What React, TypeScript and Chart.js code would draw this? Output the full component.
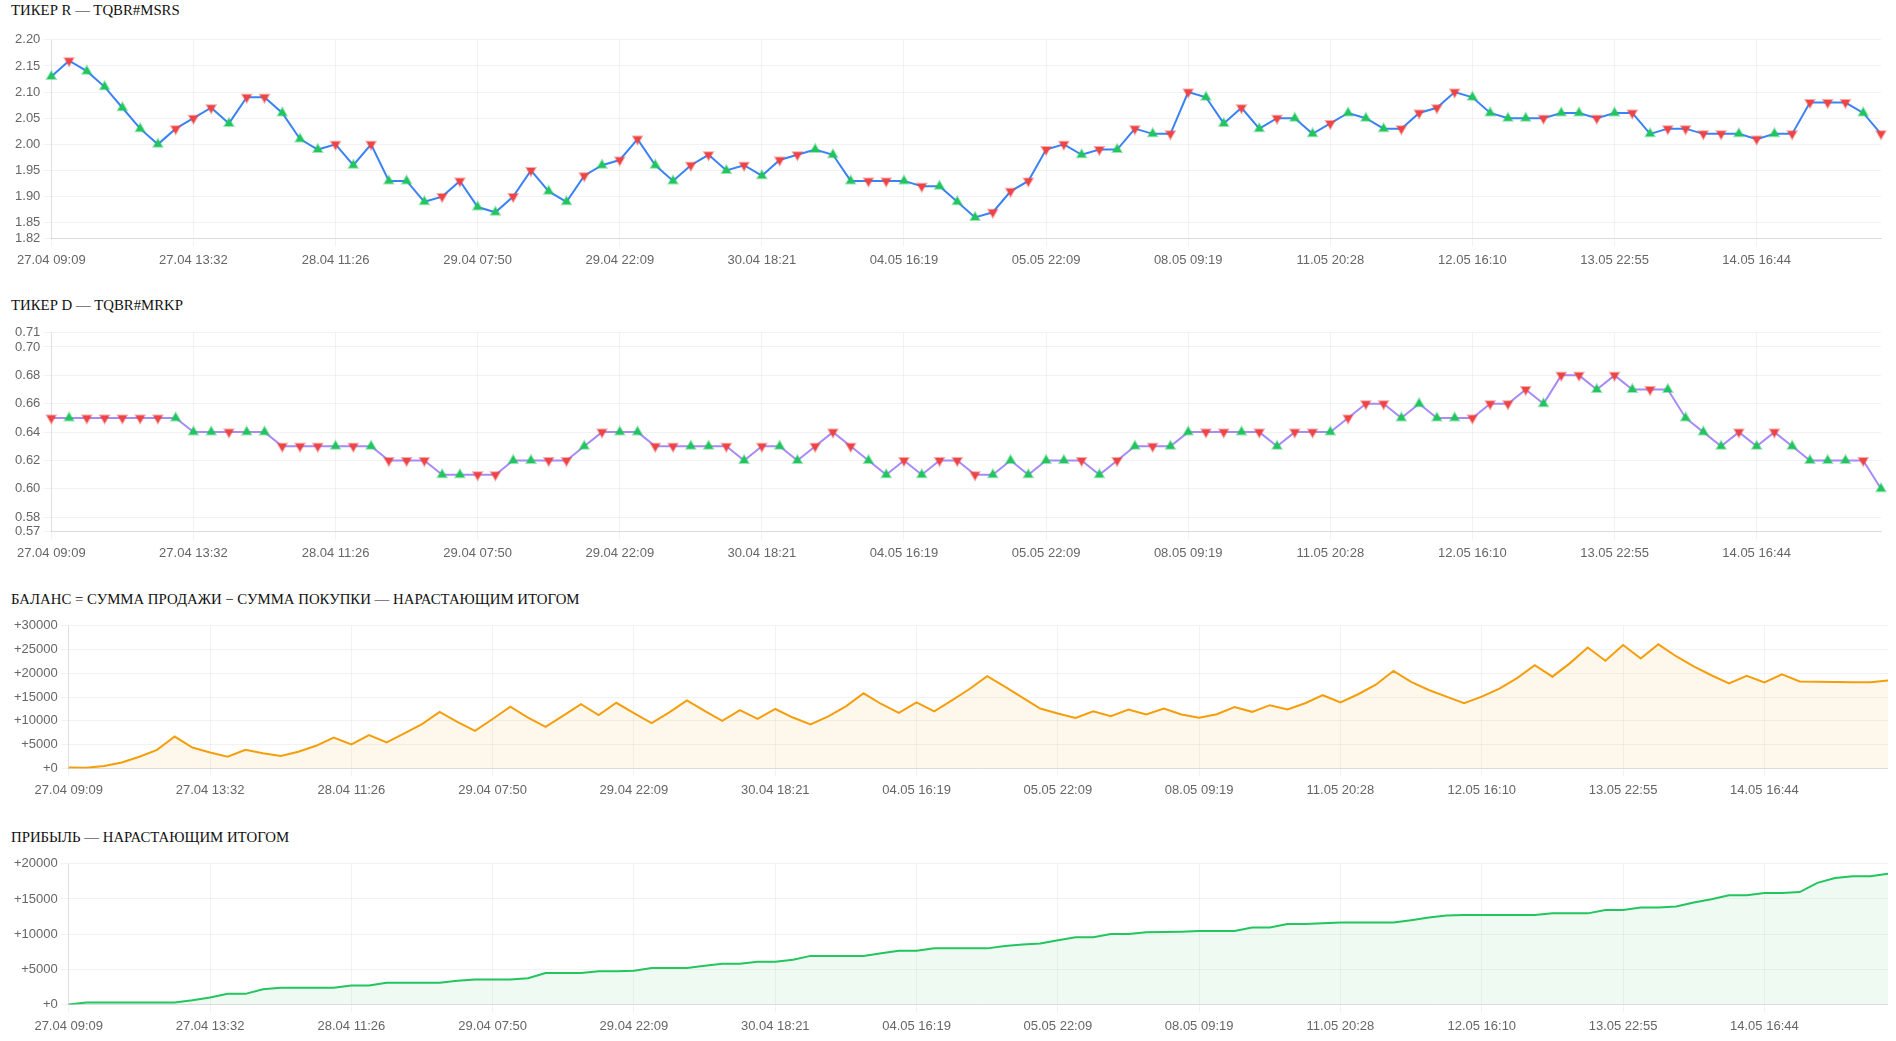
import React, { useEffect, useRef, useState } from "react";
import { Chart, registerables } from "chart.js";

Chart.register(...registerables);

// ---------- DATA ----------
const tickLabels = [
  "27.04 09:09", "27.04 13:32", "28.04 11:26", "29.04 07:50", "29.04 22:09",
  "30.04 18:21", "04.05 16:19", "05.05 22:09", "08.05 09:19", "11.05 20:28",
  "12.05 16:10", "13.05 22:55", "14.05 16:44",
];
const LABEL_STEP = 8;

const priceR = [
  2.13, 2.16, 2.14, 2.11, 2.07, 2.03, 2.00, 2.03, 2.05, 2.07,
  2.04, 2.09, 2.09, 2.06, 2.01, 1.99, 2.00, 1.96, 2.00, 1.93,
  1.93, 1.89, 1.90, 1.93, 1.88, 1.87, 1.90, 1.95, 1.91, 1.89,
  1.94, 1.96, 1.97, 2.01, 1.96, 1.93, 1.96, 1.98, 1.95, 1.96,
  1.94, 1.97, 1.98, 1.99, 1.98, 1.93, 1.93, 1.93, 1.93, 1.92,
  1.92, 1.89, 1.86, 1.87, 1.91, 1.93, 1.99, 2.00, 1.98, 1.99,
  1.99, 2.03, 2.02, 2.02, 2.10, 2.09, 2.04, 2.07, 2.03, 2.05,
  2.05, 2.02, 2.04, 2.06, 2.05, 2.03, 2.03, 2.06, 2.07, 2.10,
  2.09, 2.06, 2.05, 2.05, 2.05, 2.06, 2.06, 2.05, 2.06, 2.06,
  2.02, 2.03, 2.03, 2.02, 2.02, 2.02, 2.01, 2.02, 2.02, 2.08,
  2.08, 2.08, 2.06, 2.02,
];
// B = buy (green up triangle), S = sell (red down triangle)
const sidesR = [
  "B", "S", "B", "B", "B", "B", "B", "S", "S", "S",
  "B", "S", "S", "B", "B", "B", "S", "B", "S", "B",
  "B", "B", "S", "S", "B", "B", "S", "S", "B", "B",
  "S", "B", "S", "S", "B", "B", "S", "S", "B", "S",
  "B", "S", "S", "B", "B", "B", "S", "S", "B", "S",
  "B", "B", "B", "S", "S", "S", "S", "S", "B", "S",
  "B", "S", "B", "S", "S", "B", "B", "S", "B", "S",
  "B", "B", "S", "B", "B", "B", "S", "S", "S", "S",
  "B", "B", "B", "B", "S", "B", "B", "S", "B", "S",
  "B", "S", "S", "S", "S", "B", "S", "B", "S", "S",
  "S", "S", "B", "S",
];
const yTicksR = [1.82, 1.85, 1.9, 1.95, 2.0, 2.05, 2.1, 2.15, 2.2];

const priceD = [
  0.65, 0.65, 0.65, 0.65, 0.65, 0.65, 0.65, 0.65, 0.64, 0.64,
  0.64, 0.64, 0.64, 0.63, 0.63, 0.63, 0.63, 0.63, 0.63, 0.62,
  0.62, 0.62, 0.61, 0.61, 0.61, 0.61, 0.62, 0.62, 0.62, 0.62,
  0.63, 0.64, 0.64, 0.64, 0.63, 0.63, 0.63, 0.63, 0.63, 0.62,
  0.63, 0.63, 0.62, 0.63, 0.64, 0.63, 0.62, 0.61, 0.62, 0.61,
  0.62, 0.62, 0.61, 0.61, 0.62, 0.61, 0.62, 0.62, 0.62, 0.61,
  0.62, 0.63, 0.63, 0.63, 0.64, 0.64, 0.64, 0.64, 0.64, 0.63,
  0.64, 0.64, 0.64, 0.65, 0.66, 0.66, 0.65, 0.66, 0.65, 0.65,
  0.65, 0.66, 0.66, 0.67, 0.66, 0.68, 0.68, 0.67, 0.68, 0.67,
  0.67, 0.67, 0.65, 0.64, 0.63, 0.64, 0.63, 0.64, 0.63, 0.62,
  0.62, 0.62, 0.62, 0.60,
];
const sidesD = [
  "S", "B", "S", "S", "S", "S", "S", "B", "B", "B",
  "S", "B", "B", "S", "S", "S", "B", "S", "B", "S",
  "S", "S", "B", "B", "S", "S", "B", "B", "S", "S",
  "B", "S", "B", "B", "S", "S", "B", "B", "S", "B",
  "S", "B", "B", "S", "S", "S", "B", "B", "S", "B",
  "S", "S", "S", "B", "B", "B", "B", "B", "S", "B",
  "S", "B", "S", "B", "B", "S", "S", "B", "S", "B",
  "S", "S", "B", "S", "S", "S", "B", "B", "B", "B",
  "S", "S", "S", "S", "B", "S", "S", "B", "S", "B",
  "S", "B", "B", "B", "B", "S", "B", "S", "B", "B",
  "B", "B", "S", "B",
];
const yTicksD = [0.57, 0.58, 0.6, 0.62, 0.64, 0.66, 0.68, 0.7, 0.71];

const balance = [
  200, 150, 500, 1250, 2450, 3900, 6700, 4400, 3350, 2450,
  3900, 3200, 2600, 3500, 4750, 6500, 5050, 7000, 5450, 7350,
  9300, 11900, 9800, 7900, 10400, 13000, 10700, 8750, 11100, 13500,
  11200, 13800, 11650, 9550, 11800, 14300, 12100, 10000, 12250, 10400,
  12500, 10700, 9250, 10950, 13050, 15800, 13550, 11700, 13900, 12000,
  14300, 16700, 19400, 17200, 14900, 12600, 11550, 10600, 12000, 11000,
  12400, 11350, 12600, 11350, 10650, 11400, 12900, 11900, 13300, 12400,
  13700, 15400, 13900, 15600, 17600, 20500, 18200, 16500, 15100, 13700,
  15100, 16800, 19000, 21700, 19300, 22150, 25450, 22650, 25950, 23100,
  26100, 23600, 21450, 19600, 17900, 19500, 18100, 19800, 18300, 18250,
  18200, 18100, 18100, 18500,
];
const yTicksBalance = [0, 5000, 10000, 15000, 20000, 25000, 30000];

const profit = [
  0, 280, 280, 280, 280, 280, 280, 600, 980, 1500,
  1500, 2150, 2380, 2380, 2380, 2380, 2700, 2700, 3070, 3070,
  3070, 3070, 3350, 3540, 3540, 3540, 3730, 4470, 4470, 4470,
  4700, 4700, 4800, 5170, 5170, 5170, 5500, 5780, 5780, 6060,
  6060, 6340, 6900, 6900, 6900, 6900, 7270, 7640, 7640, 7970,
  7970, 7970, 7970, 8300, 8530, 8670, 9130, 9550, 9550, 10020,
  10020, 10250, 10300, 10350, 10440, 10440, 10440, 10950, 10950, 11420,
  11420, 11560, 11650, 11650, 11650, 11650, 11980, 12350, 12630, 12720,
  12720, 12720, 12720, 12720, 12950, 12950, 12950, 13420, 13420, 13790,
  13790, 13930, 14490, 14960, 15520, 15520, 15840, 15840, 15980, 17290,
  17990, 18220, 18220, 18590,
];
const yTicksProfit = [0, 5000, 10000, 15000, 20000];

const titles = [
  "ТИКЕР R — TQBR#MSRS",
  "ТИКЕР D — TQBR#MRKP",
  "БАЛАНС = СУММА ПРОДАЖИ − СУММА ПОКУПКИ — НАРАСТАЮЩИМ ИТОГОМ",
  "ПРИБЫЛЬ — НАРАСТАЮЩИМ ИТОГОМ",
];

// ---------- STYLE ----------
const GRID = "rgba(0,0,0,0.05)";
const BUY = "#22c55e";
const SELL = "#ef4444";
const BUY_BORDER = "rgba(34,197,94,0.45)";
const SELL_BORDER = "rgba(239,68,68,0.45)";
const FONT = { family: "Arial, 'Liberation Sans', Helvetica, sans-serif", size: 13 };

function makeXLabels(): string[] {
  return priceR.map((_, i) => (i % LABEL_STEP === 0 ? tickLabels[i / LABEL_STEP] : ""));
}

function xScale(labels: string[]): any {
  return {
    grid: { color: GRID },
    border: { color: "#dcdcdc" },
    ticks: { autoSkip: false, maxRotation: 0, minRotation: 0, padding: 6, color: "#666", font: FONT },
    afterBuildTicks: (scale: any) => {
      scale.ticks = scale.ticks.filter((t: any) => labels[t.value] !== "");
    },
  };
}

function yScale(ticksArr: number[], fmt: (v: number) => string): any {
  return {
    min: ticksArr[0],
    max: ticksArr[ticksArr.length - 1],
    grid: { color: GRID },
    border: { color: "rgba(0,0,0,0.08)" },
    ticks: { color: "#666", font: FONT, callback: (v: any) => fmt(Number(v)) },
    afterBuildTicks: (scale: any) => {
      scale.ticks = ticksArr.map((v) => ({ value: v }));
    },
  };
}

function baseOptions(labels: string[], yTicks: number[], fmt: (v: number) => string): any {
  return {
    responsive: false,
    animation: false,
    plugins: { legend: { display: false }, tooltip: { enabled: false } },
    scales: { x: xScale(labels), y: yScale(yTicks, fmt) },
  };
}

function tradeDataset(values: number[], sides: string[], color: string): any {
  return {
    data: values.slice(),
    borderColor: color,
    borderWidth: 2,
    tension: 0,
    fill: false,
    pointStyle: "triangle",
    pointRadius: 5,
    pointBorderWidth: 2,
    pointRotation: sides.map((s) => (s === "S" ? 180 : 0)),
    pointBackgroundColor: sides.map((s) => (s === "S" ? SELL : BUY)),
    pointBorderColor: sides.map((s) => (s === "S" ? SELL_BORDER : BUY_BORDER)),
  };
}

function areaDataset(values: number[], color: string, fillColor: string): any {
  return {
    data: values.slice(),
    borderColor: color,
    borderWidth: 2,
    tension: 0,
    fill: "origin",
    backgroundColor: fillColor,
    pointRadius: 0,
  };
}

const fmt2 = (v: number) => v.toFixed(2);
const fmtPlus = (v: number) => "+" + Math.round(v);

function buildConfig(idx: number): any {
  const labels = makeXLabels();
  if (idx === 0)
    return {
      type: "line",
      data: { labels, datasets: [tradeDataset(priceR, sidesR, "#3b82f6")] },
      options: baseOptions(labels, yTicksR, fmt2),
    };
  if (idx === 1)
    return {
      type: "line",
      data: { labels, datasets: [tradeDataset(priceD, sidesD, "#a78bfa")] },
      options: baseOptions(labels, yTicksD, fmt2),
    };
  if (idx === 2)
    return {
      type: "line",
      data: { labels, datasets: [areaDataset(balance, "#f59e0b", "rgba(245,158,11,0.08)")] },
      options: baseOptions(labels, yTicksBalance, fmtPlus),
    };
  return {
    type: "line",
    data: { labels, datasets: [areaDataset(profit, "#22c55e", "rgba(34,197,94,0.08)")] },
    options: baseOptions(labels, yTicksProfit, fmtPlus),
  };
}

const titleTops = [0, 295, 589, 827];
const canvasTops = [29, 322, 615, 853];
const canvasHeights = [245, 245, 189, 187];
const LEFT = 11;
const CANVAS_W = 1877;

function ChartBlock({ idx }: { idx: number }) {
  const ref = useRef<HTMLCanvasElement>(null);
  const [err, setErr] = useState("");
  useEffect(() => {
    let chart: any = null;
    try {
      chart = new Chart(ref.current as HTMLCanvasElement, buildConfig(idx));
    } catch (e: any) {
      setErr(String(e && e.stack ? e.stack : e));
    }
    return () => {
      if (chart) chart.destroy();
    };
  }, [idx]);
  return (
    <>
      <div
        style={{
          position: "absolute",
          left: LEFT,
          top: titleTops[idx],
          fontFamily: "'Times New Roman', 'Liberation Serif', serif",
          fontSize: 14.8,
          lineHeight: "21px",
          color: "#111",
          whiteSpace: "nowrap",
        }}
      >
        {titles[idx]}
        {err ? <span style={{ color: "red", fontSize: 10 }}> {err}</span> : null}
      </div>
      <canvas
        ref={ref}
        width={CANVAS_W}
        height={canvasHeights[idx]}
        style={{
          position: "absolute",
          left: LEFT,
          top: canvasTops[idx],
          display: "block",
          width: CANVAS_W,
          height: canvasHeights[idx],
        }}
      />
    </>
  );
}

export default function App() {
  return (
    <div>
      {[0, 1, 2, 3].map((i) => (
        <ChartBlock key={i} idx={i} />
      ))}
    </div>
  );
}
